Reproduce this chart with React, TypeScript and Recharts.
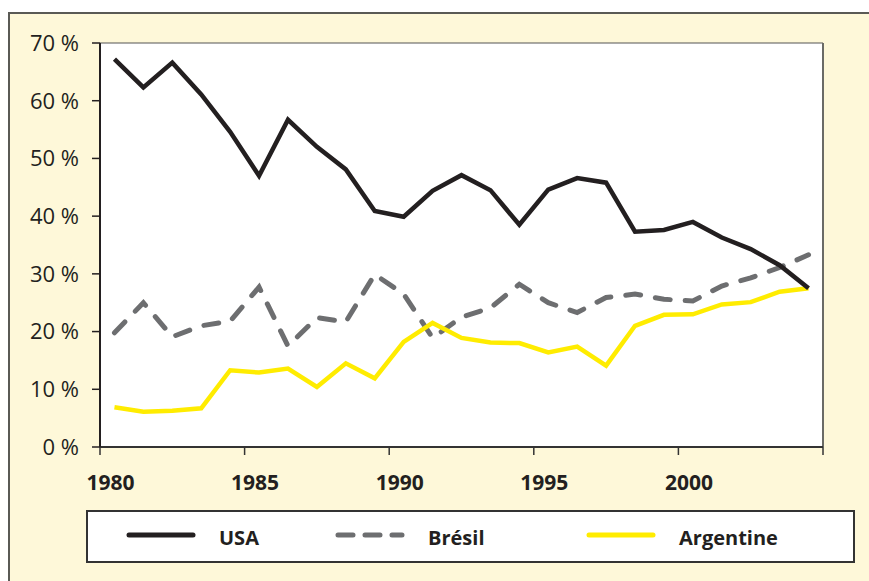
import { LineChart, Line, XAxis, YAxis, CartesianGrid, ReferenceLine } from "recharts";

const years = [1980, 1981, 1982, 1983, 1984, 1985, 1986, 1987, 1988, 1989, 1990, 1991, 1992, 1993, 1994, 1995, 1996, 1997, 1998, 1999, 2000, 2001, 2002, 2003, 2004];
const usa = [67.2, 62.3, 66.6, 61.1, 54.6, 47.0, 56.7, 52.0, 48.1, 40.9, 39.9, 44.4, 47.1, 44.5, 38.5, 44.6, 46.6, 45.8, 37.3, 37.6, 39.0, 36.3, 34.3, 31.5, 27.5];
const bresil = [19.8, 25.0, 19.1, 21.0, 21.8, 27.7, 17.5, 22.4, 21.7, 29.9, 26.5, 18.9, 22.5, 24.1, 28.2, 25.0, 23.3, 25.9, 26.5, 25.6, 25.3, 27.9, 29.3, 31.1, 33.3];
const argentine = [6.9, 6.1, 6.3, 6.7, 13.3, 12.9, 13.6, 10.4, 14.5, 11.9, 18.2, 21.5, 18.9, 18.1, 18.0, 16.4, 17.4, 14.1, 21.0, 22.9, 23.0, 24.7, 25.1, 26.9, 27.5];

const yTicks = [0, 10, 20, 30, 40, 50, 60, 70];
const xTicks = [1979.5, 1984.5, 1989.5, 1994.5, 1999.5, 2004.5];
const xTickLabels = ["1980", "1985", "1990", "1995", "2000", ""];

const seriesNames = ["USA", "Brésil", "Argentine"];
const seriesColors = ["#231f20", "#6d6e70", "#ffec00"];
const legendOffsets = [43, 252, 503];

const data = years.map((y, i) => ({
  year: y,
  usa: usa[i],
  bresil: bresil[i],
  argentine: argentine[i],
}));

const FONT = "'Open Sans', 'Noto Sans', sans-serif";

function XTick(props: any) {
  const { x, y, index } = props;
  const label = xTickLabels[index];
  if (!label) return null;
  return (
    <text x={x + 10.5} y={y + 33} textAnchor="middle" fontFamily={FONT} fontSize={21} fontWeight="bold" fill="#231f20">
      {label}
    </text>
  );
}

function LegendBox() {
  return (
    <svg width={769} height={53} style={{ display: "block" }}>
      <rect x={1} y={1} width={767} height={51} fill="#ffffff" stroke="#333333" strokeWidth={2} />
      {seriesNames.map((name, i) => (
        <g key={name}>
          <line
            x1={legendOffsets[i]}
            x2={legendOffsets[i] + 64}
            y1={25}
            y2={25}
            stroke={seriesColors[i]}
            strokeWidth={5}
            strokeLinecap="round"
            strokeDasharray={i === 1 ? "15 12" : undefined}
          />
          <text x={legendOffsets[i] + 90} y={35} fontFamily={FONT} fontSize={20} fontWeight="bold" fill="#231f20">
            {name}
          </text>
        </g>
      ))}
    </svg>
  );
}

export default function App() {
  return (
    <div style={{ position: "absolute", left: 0, top: 0, width: 869, height: 581, background: "#ffffff", overflow: "hidden" }}>
      <div
        style={{
          position: "absolute",
          left: 8,
          top: 12,
          width: 880,
          height: 590,
          background: "#fef8d9",
          borderLeft: "2px solid #5a5a55",
          borderTop: "2px solid #5a5a55",
        }}
      />
      <div style={{ position: "absolute", left: 0, top: 0 }}>
        <LineChart width={869} height={581} data={data} margin={{ top: 43, right: 46, left: 0, bottom: 0 }}>
          <CartesianGrid horizontal={false} vertical={false} fill="#ffffff" />
          <ReferenceLine y={70} stroke="#555555" strokeWidth={1} />
          <ReferenceLine x={2004.5} stroke="#6b6b66" strokeWidth={2} />
          <XAxis
            dataKey="year"
            type="number"
            domain={[1979.5, 2004.5]}
            ticks={xTicks}
            interval={0}
            height={134}
            tickSize={8}
            tick={<XTick />}
            axisLine={{ stroke: "#333333", strokeWidth: 2 }}
            tickLine={{ stroke: "#333333", strokeWidth: 1.5 }}
          />
          <YAxis
            type="number"
            domain={[0, 70]}
            ticks={yTicks}
            interval={0}
            width={100}
            tickSize={8}
            tickMargin={13}
            tickFormatter={(v: number) => `${v} %`}
            tick={{ fontFamily: FONT, fontSize: 22, fill: "#231f20" }}
            axisLine={{ stroke: "#231f20", strokeWidth: 2 }}
            tickLine={{ stroke: "#231f20", strokeWidth: 1.5 }}
          />
          <Line name={seriesNames[1]} dataKey="bresil" stroke={seriesColors[1]} strokeWidth={5} strokeDasharray="15 15" strokeLinecap="round" dot={false} activeDot={false} isAnimationActive={false} />
          <Line name={seriesNames[2]} dataKey="argentine" stroke={seriesColors[2]} strokeWidth={4.5} dot={false} activeDot={false} isAnimationActive={false} />
          <Line name={seriesNames[0]} dataKey="usa" stroke={seriesColors[0]} strokeWidth={4.5} dot={false} activeDot={false} isAnimationActive={false} />
        </LineChart>
      </div>
      <div style={{ position: "absolute", left: 86, top: 510 }}>
        <LegendBox />
      </div>
    </div>
  );
}
